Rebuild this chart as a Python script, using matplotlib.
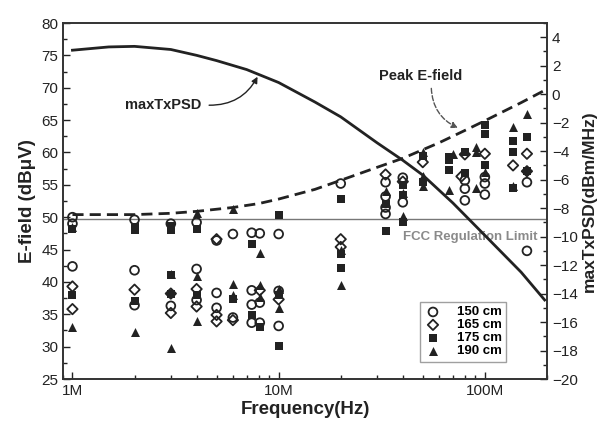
import numpy as np
import matplotlib.pyplot as plt
from matplotlib.ticker import MultipleLocator, FixedLocator, FixedFormatter, LogLocator, NullFormatter

plt.rcParams['font.family'] = ['Liberation Sans', 'DejaVu Sans']

# curves (frequency in MHz)
psd_freq = [1, 1.5, 2, 3, 4, 5, 7, 10, 15, 20, 30, 40, 50, 70, 100, 150, 195]
psd_val = [3.09, 3.32, 3.36, 3.14, 2.73, 2.36, 1.73, 0.82, -0.55, -1.59, -3.41,
           -4.64, -5.68, -7.64, -9.91, -12.5, -14.45]

peak_freq = [1, 2, 3, 4, 6, 8, 10, 15, 20, 30, 40, 60, 80, 100, 150, 195]
peak_val = [50.4, 50.4, 50.6, 50.9, 51.5, 52.1, 52.8, 54.3, 55.7, 57.7, 59.1,
            61.5, 63.4, 64.9, 67.7, 69.6]

fcc_limit = 49.7

# measured E-field, one list of (MHz, dBuV) per antenna height
h150 = [(1, 50.0), (1, 49.0), (1, 42.4), (2, 49.6), (2, 41.8), (2, 36.4),
        (3, 49.0), (3, 36.3), (4, 49.2), (4, 42.0), (4, 37.2),
        (5, 46.4), (5, 38.3), (5, 36.0), (6, 47.4), (6, 34.5),
        (7.4, 47.6), (7.4, 38.7), (7.4, 36.5), (7.4, 33.7),
        (8.1, 47.5), (8.1, 36.8), (8.1, 33.7), (10, 47.4), (10, 38.6), (10, 33.2),
        (20, 55.2), (33, 55.4), (33, 53.2), (33, 51.5), (33, 50.5),
        (40, 56.1), (40, 52.3), (80, 55.7), (80, 54.4), (80, 52.6),
        (100, 56.2), (100, 55.2), (100, 53.5), (160, 55.4), (160, 44.8)]
h165 = [(1, 39.3), (1, 35.8), (2, 38.8), (3, 38.2), (3, 35.2), (4, 38.9), (4, 36.2),
        (5, 46.6), (5, 34.9), (5, 33.9), (6, 34.1), (8.1, 38.7), (10, 37.3),
        (20, 46.6), (20, 45.4), (33, 56.6), (40, 55.5), (50, 58.5),
        (77, 56.3), (80, 59.7), (100, 59.8), (137, 58.0), (160, 59.8), (160, 57.1)]
h175 = [(1, 48.2), (1, 38.0), (2, 48.5), (2, 48.0), (2, 37.1),
        (3, 48.6), (3, 48.0), (3, 41.0), (3, 38.2), (4, 48.2), (4, 38.0),
        (6, 37.3), (7.4, 45.8), (7.4, 34.9), (8.1, 33.0),
        (10, 50.4), (10, 38.0), (10, 30.1), (20, 52.8), (20, 44.3), (20, 42.1),
        (33, 52.1), (33, 47.8), (40, 54.9), (40, 53.5), (40, 49.2),
        (50, 59.5), (50, 55.5), (67, 59.3), (67, 58.8), (67, 57.3),
        (80, 56.8), (80, 60.0), (100, 64.2), (100, 62.9), (100, 58.0),
        (137, 61.8), (137, 60.0), (137, 54.5), (160, 62.4), (160, 57.1)]
h190 = [(1, 48.5), (1, 33.1), (2, 32.3), (3, 41.2), (3, 29.8),
        (4, 50.7), (4, 40.9), (4, 34.0), (6, 51.3), (6, 39.7), (6, 38.0),
        (8.1, 44.4), (8.1, 39.6), (8.1, 37.6), (10, 35.9), (10, 38.9),
        (20, 45.0), (20, 39.6), (33, 54.1), (40, 53.8), (40, 50.2),
        (50, 60.0), (50, 56.3), (50, 54.8), (67, 54.2), (70, 59.8),
        (91, 60.8), (91, 54.5), (91, 60.0), (100, 57.0),
        (137, 63.9), (137, 54.8), (160, 66.0)]

heights = ['150 cm', '165 cm', '175 cm', '190 cm']
fig = plt.figure(figsize=(6.03, 4.23), dpi=100)
ax = fig.add_axes([0.1045, 0.104, 0.8025, 0.8416])
ax2 = ax.twinx()

ink = '#222222'
styles = [dict(marker='o', facecolors='none', edgecolors=ink, s=40, linewidths=1.3),
          dict(marker='D', facecolors='none', edgecolors=ink, s=28, linewidths=1.3),
          dict(marker='s', c=ink, s=32, linewidths=0),
          dict(marker='^', c=ink, s=42, linewidths=0)]
for pts, lab, st in zip([h150, h165, h175, h190], heights, styles):
    f = np.array([p[0] for p in pts]) * 1e6
    v = [p[1] for p in pts]
    ax.scatter(f, v, label=lab, zorder=3, **st)

ax.plot(np.array(peak_freq) * 1e6, peak_val, ls=(0, (4, 2.2)), color=ink, lw=2.0, zorder=4)
ax.axhline(fcc_limit, color='#777777', lw=1.0, zorder=2)
ax.text(4.0e7, 47.0, 'FCC Regulation Limit', color='#8a8a8a', fontsize=9.5,
        fontweight='bold', va='center', ha='left', zorder=5)

ax2.plot(np.array(psd_freq) * 1e6, psd_val, color=ink, lw=2.0, zorder=4)

ax.set_xscale('log')
ax.set_xlim(0.9e6, 2e8)
ax.set_ylim(25, 80)

ax.xaxis.set_major_locator(FixedLocator([1e6, 1e7, 1e8]))
ax.xaxis.set_major_formatter(FixedFormatter(['1M', '10M', '100M']))
ax.xaxis.set_minor_locator(LogLocator(base=10, subs=np.arange(2, 10)))
ax.xaxis.set_minor_formatter(NullFormatter())
ax.yaxis.set_major_locator(MultipleLocator(5))
ax.yaxis.set_minor_locator(MultipleLocator(2.5))
ax2.set_yticks(np.arange(-20, 5, 2))
ax2.yaxis.set_minor_locator(MultipleLocator(1))
ax2.set_ylim(-20, 5)

for a in (ax, ax2):
    a.tick_params(which='both', direction='in', colors=ink, labelsize=11, width=1.0)
    a.tick_params(which='major', length=5)
    a.tick_params(which='minor', length=3)
    for sp in a.spines.values():
        sp.set_color('#333333')
        sp.set_linewidth(1.2)
ax.tick_params(axis='y', right=False)
ax2.tick_params(axis='x', top=False)

ax.set_xlabel('Frequency(Hz)', fontsize=13.5, fontweight='bold', color=ink, labelpad=2)
ax.set_ylabel('E-field (dB\u03bcV)', fontsize=13.5, fontweight='bold', color=ink, labelpad=4)
ax2.set_ylabel('maxTxPSD(dBm/MHz)', fontsize=12.5, fontweight='bold', color=ink,
               rotation=90, labelpad=3)

# annotations
ax.text(2.75e6, 67.3, 'maxTxPSD', fontsize=10.5, fontweight='bold', color=ink,
        ha='center', va='center')
ax.annotate('', xy=(7.9e6, 71.7), xytext=(4.6e6, 67.3),
            arrowprops=dict(arrowstyle='-|>', color=ink, lw=1.0, mutation_scale=9,
                            connectionstyle='arc3,rad=0.3', shrinkA=0, shrinkB=0))
ax.text(4.9e7, 71.8, 'Peak E-field', fontsize=10.5, fontweight='bold', color=ink,
        ha='center', va='center')
ax.annotate('', xy=(7.4e7, 63.8), xytext=(5.5e7, 69.9),
            arrowprops=dict(arrowstyle='-|>', color='#555555', lw=1.0, ls='--',
                            mutation_scale=9, connectionstyle='arc3,rad=0.3',
                            shrinkA=0, shrinkB=0))

leg = ax.legend(loc='lower left', bbox_to_anchor=(0.725, 0.03), frameon=True,
                fancybox=False, edgecolor='#888888', handletextpad=1.2,
                labelspacing=0.05, borderpad=0.35, handlelength=1.2,
                prop=dict(weight='bold', size=9.5))
leg.get_frame().set_linewidth(1.0)

fig.savefig('out.png', dpi=100)
